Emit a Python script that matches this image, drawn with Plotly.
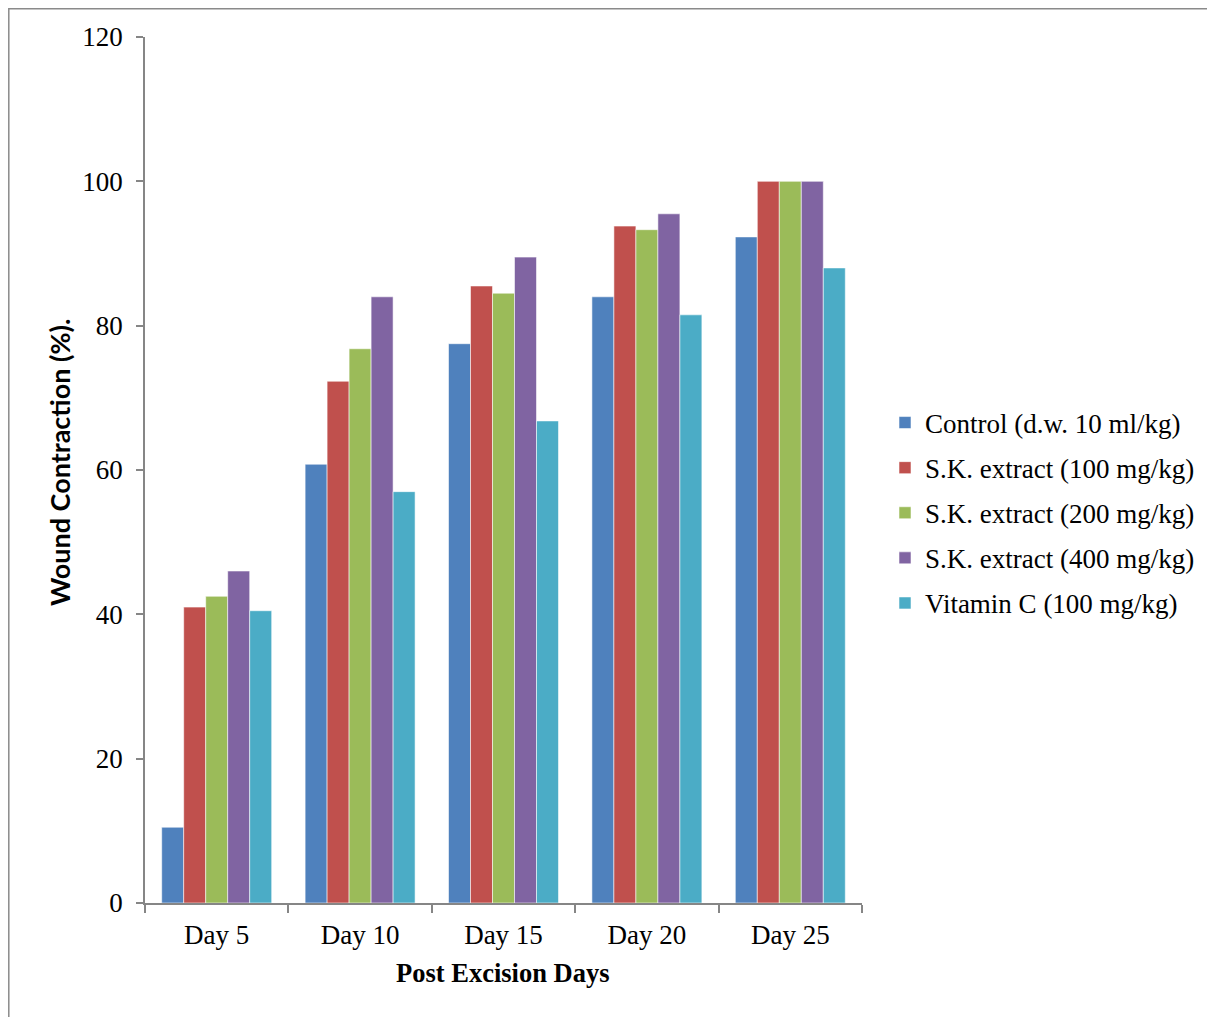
import plotly.graph_objects as go

categories = ["Day 5", "Day 10", "Day 15", "Day 20", "Day 25"]
series_names = [
    "Control (d.w. 10 ml/kg)",
    "S.K. extract (100 mg/kg)",
    "S.K. extract (200 mg/kg)",
    "S.K. extract (400 mg/kg)",
    "Vitamin C (100 mg/kg)",
]
control = [10.5, 60.8, 77.5, 84.0, 92.3]
sk100 = [41.0, 72.3, 85.5, 93.8, 100.0]
sk200 = [42.5, 76.8, 84.5, 93.3, 100.0]
sk400 = [46.0, 84.0, 89.5, 95.5, 100.0]
vitc = [40.5, 57.0, 66.8, 81.5, 88.0]
y_ticks = [0, 20, 40, 60, 80, 100, 120]

colors = ["#4F81BD", "#C0504D", "#9BBB59", "#8064A2", "#4BACC6"]
all_series = [control, sk100, sk200, sk400, vitc]

fig = go.Figure()
for i, (name, vals) in enumerate(zip(series_names, all_series)):
    fig.add_trace(go.Bar(
        x=categories, y=vals, name=name,
        marker=dict(color=colors[i], line=dict(color="rgba(255,255,255,0.55)", width=1)),
        legendgroup=f"g{i}",
    ))

# page body has an 8px margin, so figure coords = reference coords - 8
OFF = 8
W, H = 1215 - OFF, 1017 - OFF
L, T = 145 - OFF, 37 - OFF
R = W - (862 - OFF)
B = H - (903 - OFF)
pw, ph = W - L - R, H - T - B

def px_x(p):
    return (p - OFF - L) / pw

def px_y(p):
    return (H - B - (p - OFF)) / ph

serif = "Liberation Serif, Times New Roman, serif"
axis_col = "#868686"

fig.update_layout(
    width=W, height=H,
    margin=dict(l=L, r=R, t=T, b=B, autoexpand=False),
    paper_bgcolor="white", plot_bgcolor="white",
    barmode="group", bargap=0.233, bargroupgap=0,
    font=dict(family=serif, size=27, color="black"),
    showlegend=True,
    legend=dict(
        x=px_x(885), y=px_y(513), xanchor="left", yanchor="middle",
        font=dict(family=serif, size=27, color="black"),
        tracegroupgap=7, traceorder="grouped",
        bgcolor="rgba(0,0,0,0)", itemwidth=30,
    ),
    xaxis=dict(
        showline=True, linecolor=axis_col, linewidth=1.5,
        ticks="outside", tickson="boundaries", ticklen=8, tickcolor=axis_col, tickwidth=1.5,
        tickfont=dict(family=serif, size=27, color="black"),
        ticklabelstandoff=7,
        showgrid=False, zeroline=False,
    ),
    yaxis=dict(
        range=[0, 120], tickvals=y_ticks,
        showline=True, linecolor=axis_col, linewidth=1.5,
        ticks="outside", ticklen=7, tickcolor=axis_col, tickwidth=1.5,
        tickfont=dict(family=serif, size=27, color="black"),
        ticklabelstandoff=8,
        showgrid=False, zeroline=False,
    ),
    annotations=[
        dict(text="<b>Wound Contraction (%).</b>", textangle=-90,
             x=px_x(60), y=px_y(463), xref="paper", yref="paper",
             xanchor="center", yanchor="middle", showarrow=False,
             font=dict(family="Lato, Carlito, Liberation Sans, sans-serif", size=27, color="black")),
        dict(text="<b>Post Excision Days</b>",
             x=px_x(503), y=px_y(973), xref="paper", yref="paper",
             xanchor="center", yanchor="middle", showarrow=False,
             font=dict(family=serif, size=26.5, color="black")),
    ],
    shapes=[
        dict(type="rect", xref="paper", yref="paper",
             x0=px_x(8.8), x1=px_x(1240), y0=px_y(1040), y1=px_y(8.8),
             line=dict(color="#8a8a8a", width=1.5), fillcolor="rgba(0,0,0,0)", layer="below"),
    ],
)

fig.write_html("out.html")
